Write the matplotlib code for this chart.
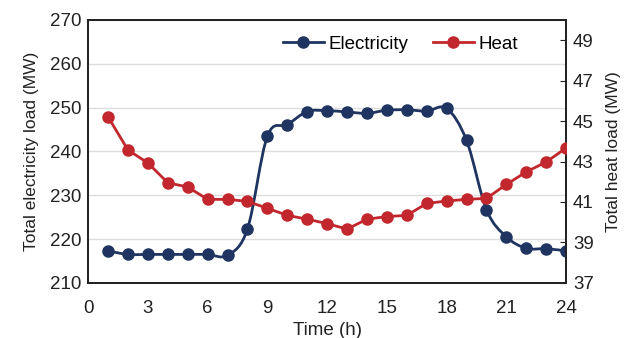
import matplotlib
matplotlib.use('Agg')
import matplotlib.pyplot as plt
from matplotlib.path import Path
from matplotlib.patches import PathPatch
from matplotlib.lines import Line2D
import numpy as np

plt.rcParams['font.family'] = ['Liberation Sans', 'DejaVu Sans']

hours = list(range(1, 25))
elec = [217.3, 216.5, 216.5, 216.5, 216.5, 216.5, 216.3, 222.3, 243.5, 246.1, 249.1, 249.3,
        249.0, 248.7, 249.4, 249.5, 249.2, 249.8, 242.5, 226.7, 220.5, 217.9, 217.8, 217.3]
heat = [45.21, 43.57, 42.93, 41.95, 41.74, 41.13, 41.13, 41.03, 40.69, 40.34, 40.15, 39.93,
        39.66, 40.15, 40.28, 40.34, 40.93, 41.05, 41.13, 41.18, 41.87, 42.49, 42.98, 43.67]

c_el = '#1f3461'
c_ht = '#c1272d'
txt = '#222222'

def smooth_path(x, y):
    # catmull-rom style bezier through the points (like a "smoothed line")
    x = np.asarray(x, float); y = np.asarray(y, float)
    n = len(x)
    verts = [(x[0], y[0])]
    codes = [Path.MOVETO]
    for i in range(n - 1):
        i0 = max(i - 1, 0); i3 = min(i + 2, n - 1)
        c1 = (x[i] + (x[i+1] - x[i0]) / 6, y[i] + (y[i+1] - y[i0]) / 6)
        c2 = (x[i+1] - (x[i3] - x[i]) / 6, y[i+1] - (y[i3] - y[i]) / 6)
        verts += [c1, c2, (x[i+1], y[i+1])]
        codes += [Path.CURVE4] * 3
    return Path(verts, codes)

fig = plt.figure(figsize=(6.34, 3.38), dpi=100)
ax = fig.add_axes([0.139, 0.163, 0.754, 0.778])
ax2 = ax.twinx()

ax.add_patch(PathPatch(smooth_path(hours, elec), fc='none', ec=c_el, lw=2, zorder=3))
ax.plot(hours, elec, 'o', color=c_el, ms=8, zorder=4)
ax2.plot(hours, heat, '-o', color=c_ht, lw=2, ms=8, zorder=4)

ax.set_xlim(0, 24)
ax.set_ylim(210, 270)
ax2.set_ylim(37, 50)
ax.set_xticks(range(0, 25, 3))
ax.set_yticks(range(210, 271, 10))
ax2.set_yticks(range(37, 50, 2))
ax.grid(axis='y', color='#dddddd', lw=1)
ax.set_axisbelow(True)

ax.tick_params(axis='y', length=0, labelsize=13.5, colors=txt, pad=5)
ax.tick_params(axis='x', length=0, labelsize=13.5, colors=txt, pad=12)
ax2.tick_params(axis='y', direction='in', length=4, labelsize=13.5, colors=txt, pad=5)
for a in (ax, ax2):
    for s in a.spines.values():
        s.set_linewidth(1.3)
        s.set_color(txt)

ax.set_xlabel('Time (h)', fontsize=13.5, color=txt, labelpad=4)
ax.set_ylabel('Total electricity load (MW)', fontsize=12.5, color=txt, labelpad=8)
ax2.set_ylabel('Total heat load (MW)', fontsize=12.5, color=txt, labelpad=9)

handles = [Line2D([], [], color=c_el, lw=2, marker='o', ms=8),
           Line2D([], [], color=c_ht, lw=2, marker='o', ms=8)]
ax.legend(handles, ['Electricity', 'Heat'], loc='upper right', ncol=2, frameon=False,
          fontsize=13.5, handlelength=2.2, columnspacing=1.3, handletextpad=0.25,
          bbox_to_anchor=(0.935, 1.005))

fig.savefig('out.png', dpi=100)
